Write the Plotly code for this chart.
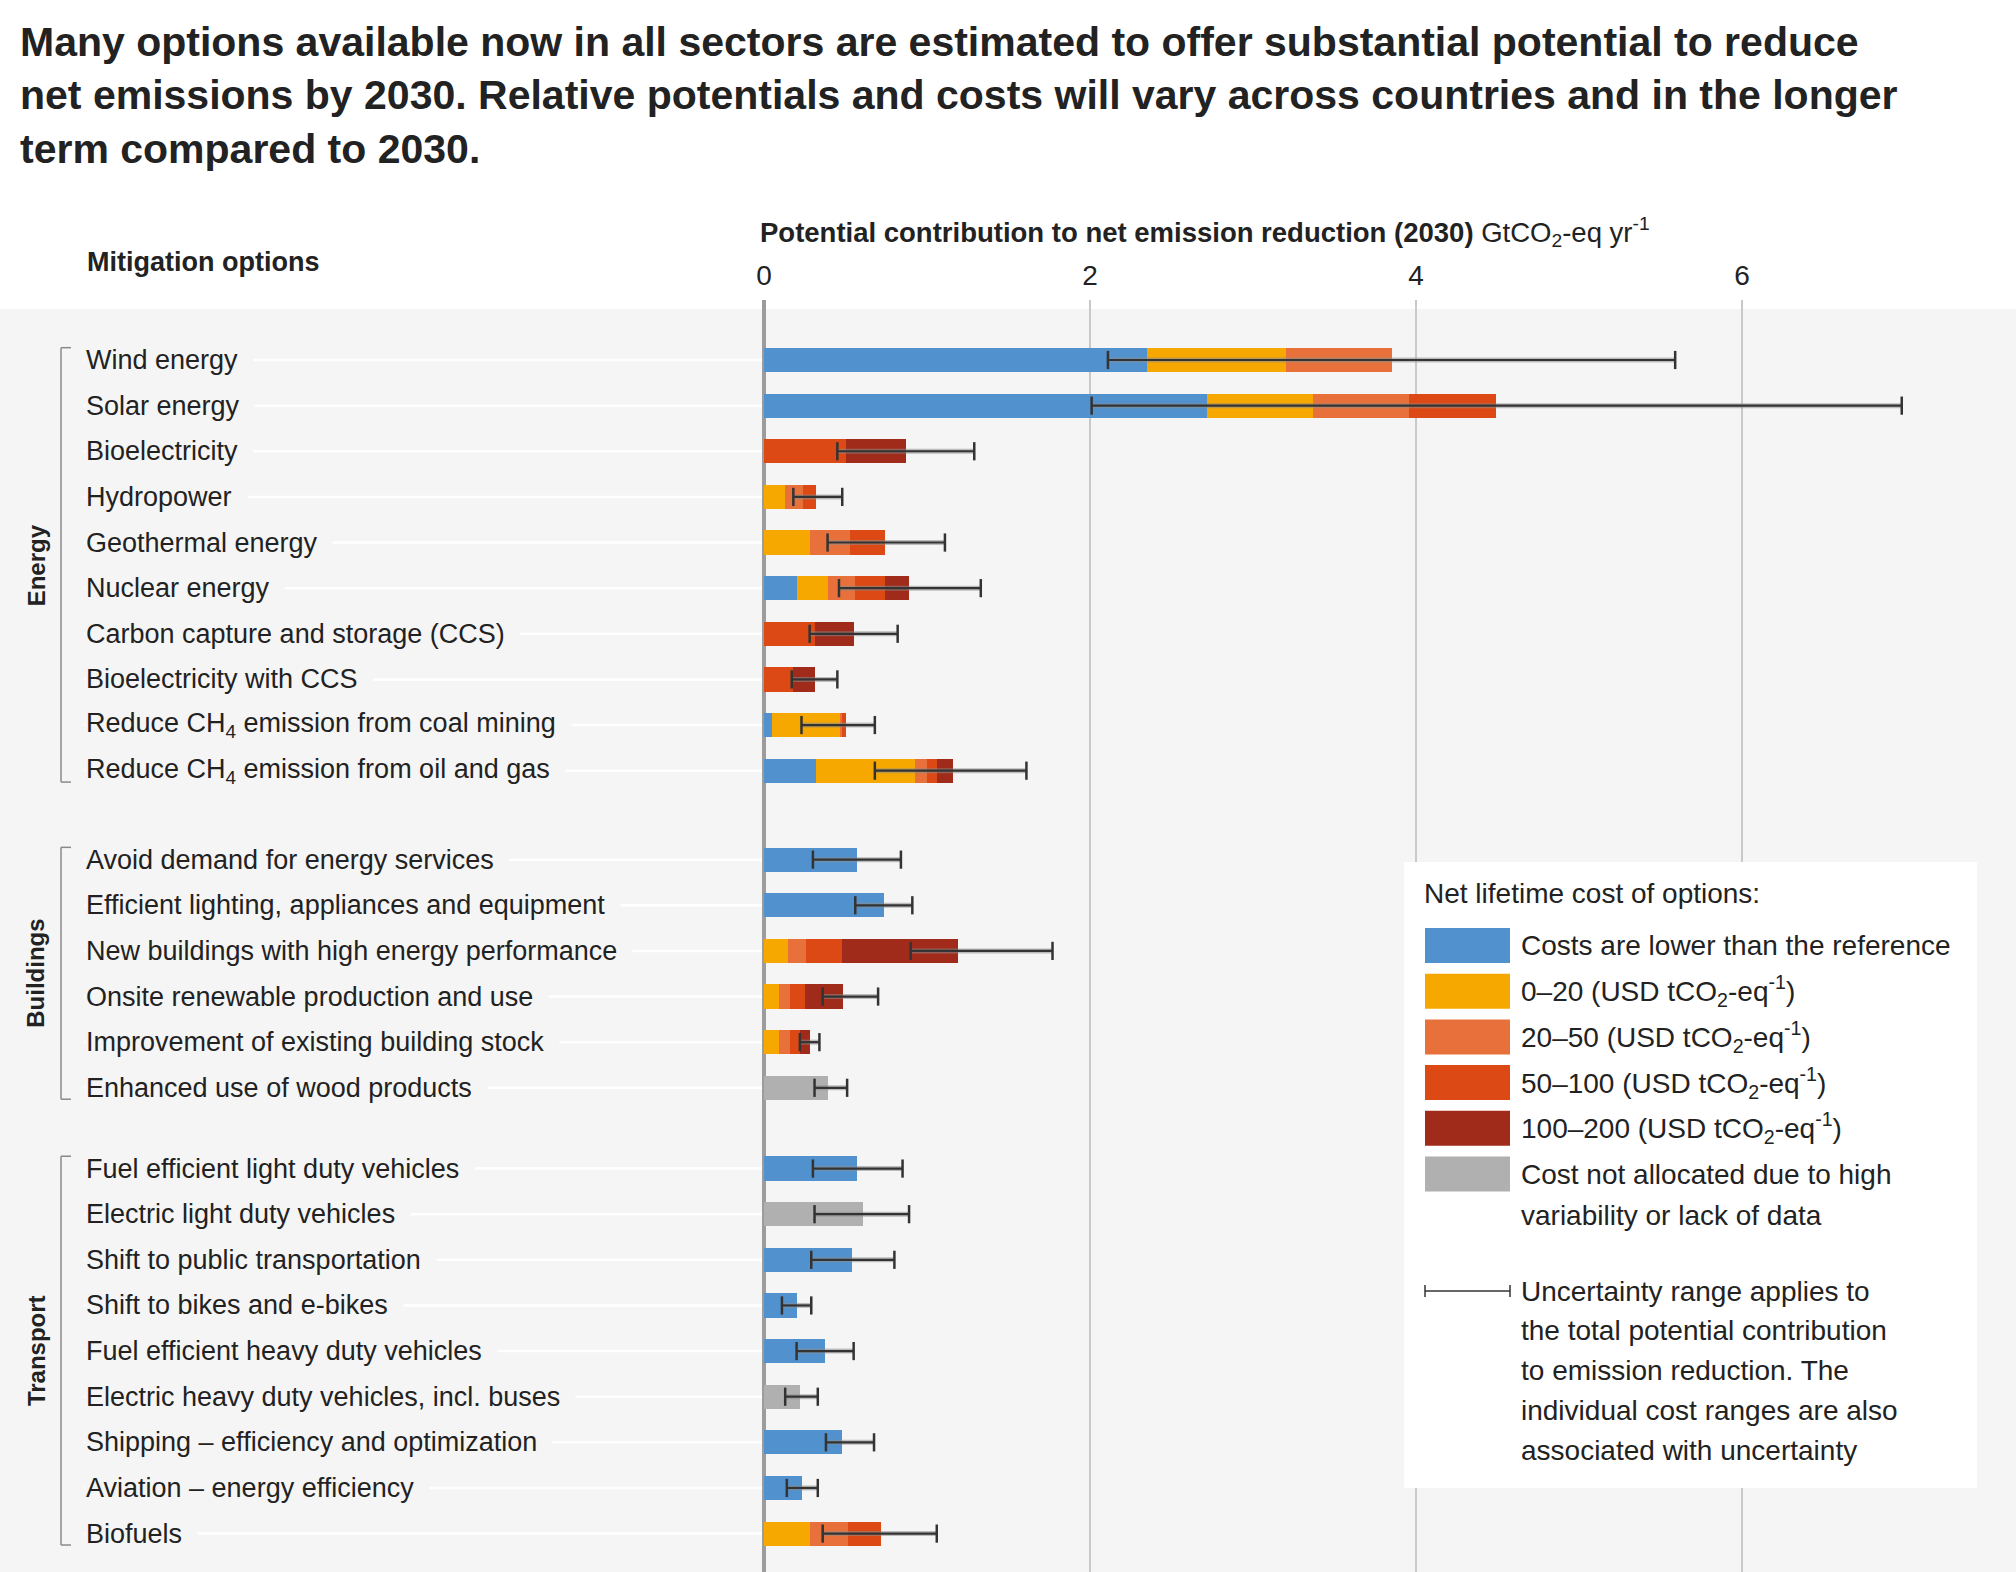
import plotly.graph_objects as go

W, H = 2016, 1572

# ---- data (GtCO2-eq per year) ----
options = [
    "Wind energy",
    "Solar energy",
    "Bioelectricity",
    "Hydropower",
    "Geothermal energy",
    "Nuclear energy",
    "Carbon capture and storage (CCS)",
    "Bioelectricity with CCS",
    "Reduce CH<sub>4</sub> emission from coal mining",
    "Reduce CH<sub>4</sub> emission from oil and gas",
    "Avoid demand for energy services",
    "Efficient lighting, appliances and equipment",
    "New buildings with high energy performance",
    "Onsite renewable production and use",
    "Improvement of existing building stock",
    "Enhanced use of wood products",
    "Fuel efficient light duty vehicles",
    "Electric light duty vehicles",
    "Shift to public transportation",
    "Shift to bikes and e-bikes",
    "Fuel efficient heavy duty vehicles",
    "Electric heavy duty vehicles, incl. buses",
    "Shipping – efficiency and optimization",
    "Aviation – energy efficiency",
    "Biofuels",
]
sectors = ["Energy"] * 10 + ["Buildings"] * 6 + ["Transport"] * 9

# potential per cost band (segment lengths)
lower_than_ref = [2.35, 2.72, 0, 0, 0, 0.20, 0, 0, 0.05, 0.32,
                  0.57, 0.735, 0, 0, 0, 0,
                  0.57, 0, 0.54, 0.20, 0.375, 0, 0.48, 0.235, 0]
usd_0_20 = [0.85, 0.65, 0, 0.13, 0.28, 0.19, 0, 0, 0.42, 0.605,
            0, 0, 0.145, 0.09, 0.09, 0,
            0, 0, 0, 0, 0, 0, 0, 0, 0.28]
usd_20_50 = [0.65, 0.59, 0, 0.11, 0.25, 0.17, 0, 0, 0.01, 0.075,
             0, 0, 0.115, 0.07, 0.07, 0,
             0, 0, 0, 0, 0, 0, 0, 0, 0.235]
usd_50_100 = [0, 0.53, 0.50, 0.08, 0.21, 0.18, 0.31, 0.18, 0.02, 0.06,
              0, 0, 0.22, 0.09, 0.06, 0,
              0, 0, 0, 0, 0, 0, 0, 0, 0.20]
usd_100_200 = [0, 0, 0.37, 0, 0, 0.15, 0.24, 0.13, 0, 0.10,
               0, 0, 0.71, 0.235, 0.06, 0,
               0, 0, 0, 0, 0, 0, 0, 0, 0]
not_allocated = [0, 0, 0, 0, 0, 0, 0, 0, 0, 0,
                 0, 0, 0, 0, 0, 0.395,
                 0, 0.605, 0, 0, 0, 0.22, 0, 0, 0]

# uncertainty range of the total potential
unc_low = [2.11, 2.01, 0.45, 0.18, 0.39, 0.46, 0.28, 0.17, 0.23, 0.68,
           0.30, 0.56, 0.90, 0.36, 0.22, 0.31,
           0.30, 0.31, 0.29, 0.11, 0.20, 0.13, 0.38, 0.14, 0.36]
unc_high = [5.59, 6.98, 1.29, 0.48, 1.11, 1.33, 0.82, 0.45, 0.68, 1.61,
            0.84, 0.91, 1.77, 0.70, 0.34, 0.51,
            0.85, 0.89, 0.80, 0.29, 0.55, 0.33, 0.675, 0.33, 1.06]

band_names = [
    "Costs are lower than the reference",
    "0–20 (USD tCO<sub>2</sub>-eq<sup>-1</sup>)",
    "20–50 (USD tCO<sub>2</sub>-eq<sup>-1</sup>)",
    "50–100 (USD tCO<sub>2</sub>-eq<sup>-1</sup>)",
    "100–200 (USD tCO<sub>2</sub>-eq<sup>-1</sup>)",
    "Cost not allocated due to high<br>variability or lack of data",
]
band_values = [lower_than_ref, usd_0_20, usd_20_50, usd_50_100, usd_100_200, not_allocated]
band_colors = ["#5192ce", "#f7a800", "#e8713b", "#dd4914", "#a02b1a", "#b0b0b0"]

tick_vals = [0, 2, 4, 6]

# ---- layout helpers ----
FONT = "Liberation Sans, Arial, sans-serif"
TXT = "#222222"
BG = "#f5f5f5"
group_gap = {"Energy": 1.95, "Buildings": 1.77}


def px(x):
    return x / W


def py(y):
    return 1 - y / H


# row positions: one unit per option, extra space between sectors
pos = []
p = 0.0
for i, s in enumerate(sectors):
    if i > 0 and s != sectors[i - 1]:
        p += group_gap[sectors[i - 1]] - 1
    pos.append(p)
    p += 1

row_px = 45.63
unit_px = 163.0

fig = go.Figure()

for name, vals, col in zip(band_names, band_values, band_colors):
    fig.add_trace(go.Bar(
        x=vals, y=pos, orientation="h", name=name,
        marker=dict(color=col, line=dict(width=0)),
        width=0.53, showlegend=False,
    ))

# uncertainty ranges
ex, ey = [], []
for lo, hi, yy in zip(unc_low, unc_high, pos):
    ex += [lo, hi, None]
    ey += [yy, yy, None]
fig.add_trace(go.Scatter(x=ex, y=ey, mode="lines", showlegend=False,
                         line=dict(color="rgba(140,140,140,0.55)", width=5), hoverinfo="skip"))
fig.add_trace(go.Scatter(x=ex, y=ey, mode="lines", showlegend=False,
                         line=dict(color="#333333", width=2.2), hoverinfo="skip"))
fig.add_trace(go.Scatter(
    x=unc_low + unc_high, y=pos + pos, mode="markers", showlegend=False, hoverinfo="skip",
    marker=dict(symbol="line-ns-open", size=13, color="#333333",
                line=dict(color="#333333", width=2.5)),
))

shapes = [
    dict(type="rect", xref="paper", yref="paper", x0=0, x1=1, y0=0, y1=py(309),
         fillcolor=BG, line=dict(width=0), layer="below"),
]
annotations = []

# leader lines and option labels
for name, yy in zip(options, pos):
    shapes.append(dict(type="line", xref="paper", yref="y", x0=px(84), x1=px(762),
                       y0=yy, y1=yy, line=dict(color="white", width=2.5), layer="below"))
    annotations.append(dict(
        x=px(85), y=yy, xref="paper", yref="y", xanchor="left", yanchor="middle",
        text=name + "\u00a0\u00a0", showarrow=False, bgcolor=BG, borderpad=0,
        font=dict(family=FONT, size=27, color=TXT),
    ))

# sector brackets and labels
for sec in ["Energy", "Buildings", "Transport"]:
    ys = [yy for yy, s in zip(pos, sectors) if s == sec]
    top, bot = ys[0] - 0.27, ys[-1] + 0.25
    bl = dict(color="#8a8a8a", width=1.5)
    shapes.append(dict(type="line", xref="paper", yref="y", x0=px(61), x1=px(61), y0=top, y1=bot, line=bl))
    shapes.append(dict(type="line", xref="paper", yref="y", x0=px(61), x1=px(71), y0=top, y1=top, line=bl))
    shapes.append(dict(type="line", xref="paper", yref="y", x0=px(61), x1=px(71), y0=bot, y1=bot, line=bl))
    annotations.append(dict(
        x=px(36), y=(ys[0] + ys[-1]) / 2, xref="paper", yref="y", textangle=-90,
        text="<b>%s</b>" % sec, showarrow=False, xanchor="center", yanchor="middle",
        font=dict(family=FONT, size=24, color=TXT),
    ))

# headings
annotations.append(dict(
    x=px(18), y=py(96), xref="paper", yref="paper", xanchor="left", yanchor="middle", align="left",
    text="<b>Many options available now in all sectors are estimated to offer substantial potential to reduce<br>"
         "net emissions by 2030. Relative potentials and costs will vary across countries and in the longer<br>"
         "term compared to 2030.</b>",
    showarrow=False, font=dict(family=FONT, size=41, color=TXT),
))
annotations.append(dict(
    x=px(85), y=py(262), xref="paper", yref="paper", xanchor="left", yanchor="middle",
    text="<b>Mitigation options</b>", showarrow=False, font=dict(family=FONT, size=27, color=TXT),
))
annotations.append(dict(
    x=px(758), y=py(232), xref="paper", yref="paper", xanchor="left", yanchor="middle",
    text="<b>Potential contribution to net emission reduction (2030)</b> GtCO<sub>2</sub>-eq yr<sup>-1</sup>",
    showarrow=False, font=dict(family=FONT, size=27.5, color=TXT),
))

# legend box
shapes.append(dict(type="rect", xref="paper", yref="paper", x0=px(1404), x1=px(1977),
                   y0=py(1488), y1=py(862), fillcolor="white", line=dict(width=0), layer="above"))
lg_font = dict(family=FONT, size=28, color=TXT)
annotations.append(dict(x=px(1422), y=py(893), xref="paper", yref="paper", xanchor="left",
                        yanchor="middle", text="Net lifetime cost of options:", showarrow=False, font=lg_font))
sw_top = 928
for k, (name, col) in enumerate(zip(band_names, band_colors)):
    y0 = sw_top + k * 45.7
    shapes.append(dict(type="rect", xref="paper", yref="paper", x0=px(1425), x1=px(1510),
                       y0=py(y0 + 35), y1=py(y0), fillcolor=col, line=dict(width=0), layer="above"))
    for j, line in enumerate(name.split("<br>")):
        annotations.append(dict(x=px(1519), y=py(y0 + 17.5 + j * 41.5), xref="paper", yref="paper",
                                xanchor="left", yanchor="middle", text=line, showarrow=False, font=lg_font))

unc_y = 1291
ul = dict(color="#333333", width=1.5)
shapes.append(dict(type="line", xref="paper", yref="paper", x0=px(1425), x1=px(1510),
                   y0=py(unc_y), y1=py(unc_y), line=ul, layer="above"))
for xx in (1425, 1510):
    shapes.append(dict(type="line", xref="paper", yref="paper", x0=px(xx), x1=px(xx),
                       y0=py(unc_y - 6), y1=py(unc_y + 6), line=ul, layer="above"))
unc_lines = [
    "Uncertainty range applies to",
    "the total potential contribution",
    "to emission reduction. The",
    "individual cost ranges are also",
    "associated with uncertainty",
]
for j, line in enumerate(unc_lines):
    annotations.append(dict(x=px(1519), y=py(unc_y + j * 39.8), xref="paper", yref="paper",
                            xanchor="left", yanchor="middle", text=line, showarrow=False, font=lg_font))

fig.update_layout(
    width=W, height=H,
    margin=dict(l=0, r=0, t=0, b=0, autoexpand=False),
    paper_bgcolor="white",
    plot_bgcolor="rgba(0,0,0,0)",
    barmode="stack",
    bargap=0,
    showlegend=False,
    shapes=shapes,
    annotations=annotations,
    font=dict(family=FONT, color=TXT),
    xaxis=dict(
        domain=[px(764), 1], range=[0, (W - 764) / unit_px], side="top",
        tickvals=tick_vals, ticks="", showline=False, automargin=False,
        showgrid=True, gridcolor="#c9c9c9", gridwidth=1.5,
        zeroline=True, zerolinecolor="#9c9c9c", zerolinewidth=4,
        tickfont=dict(family=FONT, size=28, color=TXT), ticklabelstandoff=8,
        fixedrange=True,
    ),
    yaxis=dict(
        domain=[0, py(300)], automargin=False,
        range=[(H - 360) / row_px, -60 / row_px],
        showticklabels=False, showgrid=False, zeroline=False, ticks="",
        fixedrange=True,
    ),
)

# page body margin off so the figure sits at the window origin
fig.write_html("out.html", config={"displayModeBar": False},
               post_script="document.body.style.margin='0';document.body.style.overflow='hidden';")
